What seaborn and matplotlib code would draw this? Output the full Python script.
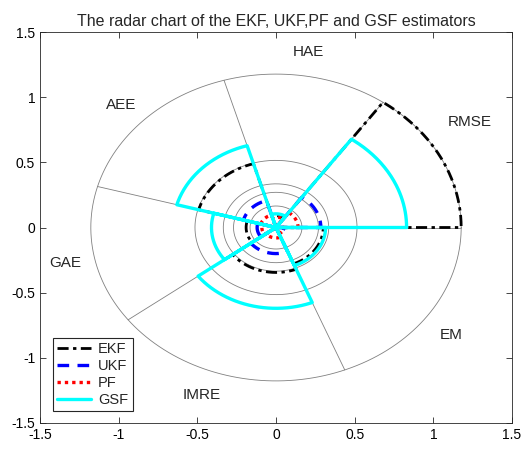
import numpy as np
import pandas as pd
import matplotlib
matplotlib.use("Agg")
import matplotlib.pyplot as plt
import seaborn as sns

# ---------------- data ----------------
metrics = ["RMSE", "HAE", "AEE", "GAE", "IMRE", "EM"]
sector_bounds_deg = [0.0, 54.7, 106.3, 164.5, 217.0, 291.8, 360.0]
ekf = [1.177, 0.09, 0.51, 0.19, 0.345, 0.30]
ukf = [0.285, 0.06, 0.215, 0.12, 0.20, 0.05]
pf = [0.14, 0.08, 0.10, 0.09, 0.08, 0.05]
gsf = [0.83, 0.105, 0.654, 0.41, 0.62, 0.315]
estimators = ["EKF", "UKF", "PF", "GSF"]
circle_radii = [0.165, 0.27, 0.335, 0.515, 1.177]
tick_values = [-1.5, -1, -0.5, 0, 0.5, 1, 1.5]
tick_labels = ["-1.5", "-1", "-0.5", "0", "0.5", "1", "1.5"]
title = "The radar chart of the EKF, UKF,PF and GSF estimators"

# label positions (layout)
label_xy = [(1.232, 0.812), (0.208, 1.345), (-0.986, 0.94),
            (-1.338, -0.274), (-0.47, -1.286), (1.113, -0.825)]

sns.set_style("ticks")
plt.rcParams["font.family"] = ["Liberation Sans", "DejaVu Sans"]

fig = plt.figure(figsize=(5.22, 4.49), dpi=100)
ax = fig.add_axes([40 / 522, 1 - 423 / 449, 472 / 522, 391 / 449])

b = np.deg2rad(sector_bounds_deg)

# grid circles and radial lines
t = np.linspace(0, 2 * np.pi, 400)
for r in circle_radii:
    ax.plot(r * np.cos(t), r * np.sin(t), color="#808080", lw=0.6, zorder=1)
for a in b[:-1]:
    R = circle_radii[-1]
    ax.plot([0, R * np.cos(a)], [0, R * np.sin(a)], color="#808080", lw=0.6, zorder=1)


def fan_frame(values, name):
    xs, ys = [], []
    for i, r in enumerate(values):
        ang = np.linspace(b[i], b[i + 1], 80)
        xs += [0.0] + list(r * np.cos(ang)) + [0.0]
        ys += [0.0] + list(r * np.sin(ang)) + [0.0]
    return pd.DataFrame({"x": xs, "y": ys, "est": name})


styles = {
    "EKF": dict(color="black", linestyle=(0, (4, 1.6, 1.2, 1.6)), lw=2.0),
    "UKF": dict(color="#0000ff", linestyle=(0, (3.5, 2.5)), lw=2.4),
    "PF": dict(color="#ff0000", linestyle=(0, (1, 1.2)), lw=2.4),
    "GSF": dict(color="#00ffff", linestyle="-", lw=2.4),
}
for name, vals in zip(estimators, [ekf, ukf, pf, gsf]):
    df = fan_frame(vals, name)
    sns.lineplot(data=df, x="x", y="y", sort=False, estimator=None, ax=ax,
                 label=name, zorder=3, **styles[name])

for m, (lx, ly) in zip(metrics, label_xy):
    ax.text(lx, ly, m, ha="center", va="center", fontsize=11)

ax.set_xlim(-1.5, 1.5)
ax.set_ylim(-1.5, 1.5)
ax.set_xticks(tick_values)
ax.set_xticklabels(tick_labels, fontsize=10)
ax.set_yticks(tick_values)
ax.set_yticklabels(tick_labels, fontsize=10)
ax.set_xlabel("")
ax.set_ylabel("")
ax.tick_params(direction="in", top=True, right=True, length=4, width=0.6,
               colors="#262626", labelcolor="black")
for s in ax.spines.values():
    s.set_color("#262626")
    s.set_linewidth(0.6)
ax.set_title(title, fontsize=11.5, pad=4)

leg = ax.legend(loc="lower left", bbox_to_anchor=(0.012, 0.012), fontsize=10.5,
                handlelength=2.3, labelspacing=0.2, borderpad=0.3,
                handletextpad=0.5, fancybox=False, framealpha=1,
                edgecolor="#262626")
leg.get_frame().set_linewidth(0.8)

fig.savefig("out.png", dpi=100)
